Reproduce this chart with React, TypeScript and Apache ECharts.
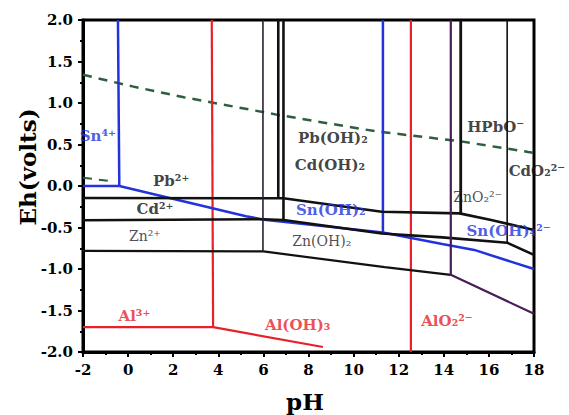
import React, { useEffect, useRef } from "react";
import * as echarts from "echarts";

// ---- data (pH, Eh in volts) ----
const oxygenLine = [[-2, 1.34], [0.19, 1.2], [2.47, 1.07], [6.58, 0.86], [10.96, 0.66], [14.7, 0.54], [17.74, 0.41], [18, 0.4]];
const hydrogenStub = [[-2, 0.1], [-0.8, 0.06]];

const snIVBoundary = [[-0.45, 2.0], [-0.39, 0.0]];
const snIVFloor = [[-2, 0.0], [-0.39, 0.0]];
const snIIFloor = [[-0.39, 0.0], [5.23, -0.364], [6.04, -0.406], [11.3, -0.56], [13.93, -0.7], [15.35, -0.77], [18, -1.0]];
const snOH2Boundary = [[11.3, 2.0], [11.3, -0.56]];

const pbLine = [[-2, -0.144], [6.89, -0.148], [11.25, -0.31], [14.7, -0.33], [16.1, -0.41], [18, -0.53]];
const cdLine = [[-2, -0.412], [6.0, -0.4], [6.89, -0.41], [11.25, -0.572], [13.93, -0.619], [16.81, -0.683], [18, -0.83]];
const znLine = [[-2, -0.782], [6.0, -0.788], [11.38, -0.978], [14.31, -1.07]];
const znAlkaline = [[14.31, -1.07], [18, -1.54]];

const znOH2Boundary = [[5.98, 2.0], [5.98, -0.788]];
const pbOH2Boundary = [[6.66, 2.0], [6.66, -0.148]];
const cdOH2Boundary = [[6.89, 2.0], [6.89, -0.41]];
const hpboBoundary = [[14.75, 2.0], [14.75, -0.33]];
const cdo2Boundary = [[16.81, 2.0], [16.81, -0.683]];
const zno2Boundary = [[14.31, 2.0], [14.31, -1.07]];

const alIIIBoundary = [[3.71, 2.0], [3.77, -1.7]];
const alFloor = [[-2, -1.7], [3.77, -1.7], [8.64, -1.94]];
const alO2Boundary = [[12.54, 2.0], [12.54, -2.0]];

const speciesText = ["Sn⁴⁺", "Pb²⁺", "Cd²⁺", "Zn²⁺", "Al³⁺", "Al(OH)₃", "AlO₂²⁻", "Sn(OH)₂", "Zn(OH)₂", "Pb(OH)₂", "Cd(OH)₂", "HPbO⁻", "CdO₂²⁻", "ZnO₂²⁻", "Sn(OH)₄²⁻"];
const speciesPH = [-1.34, 1.91, 1.19, 0.74, 0.28, 7.52, 14.14, 8.99, 8.59, 9.08, 8.95, 16.3, 18.13, 15.5, 16.87];
const speciesEh = [0.6, 0.056, -0.28, -0.6, -1.566, -1.67, -1.63, -0.292, -0.661, 0.574, 0.256, 0.705, 0.185, -0.136, -0.547];
const speciesGroup = ["sn", "bold", "bold", "plain", "al", "al", "al", "sn", "plain", "bold", "bold", "bold", "bold", "plain", "sn"];

const xMin = -2, xMax = 18, xStep = 2;
const yMin = -2, yMax = 2, yStep = 0.5;

// ---- styles ----
const BLACK = "#111111";
const BLUE = "#2233dd";
const RED = "#e8202a";
const PURPLE = "#4a1c55";
const GREEN = "#2f5e3e";
const FONT = "DejaVu Serif";

const groupStyle: Record<string, any> = {
  sn: { color: BLUE, fontWeight: "bold", fontSize: 15 },
  al: { color: RED, fontWeight: "bold", fontSize: 15 },
  bold: { color: BLACK, fontWeight: "bold", fontSize: 15 },
  plain: { color: "#222", fontWeight: "normal", fontSize: 14 },
};

function lineSeries(data: number[][], color: string, width: number, dashed = false) {
  return {
    type: "line",
    data,
    showSymbol: false,
    symbol: "none",
    silent: true,
    clip: true,
    lineStyle: { color, width, type: dashed ? [9, 7] : "solid", cap: "butt" },
  };
}

export default function App() {
  const ref = useRef<HTMLDivElement>(null);
  useEffect(() => {
    if (!ref.current) return;
    const chart = echarts.init(ref.current, null, { renderer: "svg" });
    const labelData = speciesText.map((t, i) => ({
      name: t,
      value: [speciesPH[i], speciesEh[i]],
      label: { ...groupStyle[speciesGroup[i]] },
    }));
    chart.setOption({
      animation: false,
      backgroundColor: "#fff",
      grid: { left: 83, right: 35, top: 20, bottom: 63, show: true, borderColor: "#000", borderWidth: 3, backgroundColor: "#fff" },
      xAxis: {
        type: "value",
        min: xMin,
        max: xMax,
        interval: xStep,
        axisLine: { show: true, onZero: false, lineStyle: { color: "#000", width: 3 } },
        axisTick: { show: true, inside: false, length: 5, lineStyle: { color: "#000", width: 2 } },
        minorTick: { show: true, splitNumber: 2, length: 3, lineStyle: { color: "#000", width: 2 } },
        splitLine: { show: false },
        axisLabel: { color: "#000", fontFamily: FONT, fontWeight: "bold", fontSize: 15, margin: 10 },
      },
      yAxis: {
        type: "value",
        min: yMin,
        max: yMax,
        interval: yStep,
        axisLine: { show: true, onZero: false, lineStyle: { color: "#000", width: 3 } },
        axisTick: { show: true, inside: false, length: 5, lineStyle: { color: "#000", width: 2 } },
        minorTick: { show: true, splitNumber: 2, length: 3, lineStyle: { color: "#000", width: 2 } },
        splitLine: { show: false },
        axisLabel: { color: "#000", fontFamily: FONT, fontWeight: "bold", fontSize: 15, margin: 10, formatter: (v: number) => v.toFixed(1) },
      },
      graphic: [
        { type: "text", x: 27, y: 167, rotation: Math.PI / 2, style: { text: "Eh(volts)", fill: "#000", font: `bold 23px '${FONT}'`, align: "center", verticalAlign: "middle" } },
        { type: "text", x: 305, y: 401, style: { text: "pH", fill: "#000", font: `bold 23px '${FONT}'`, align: "center", verticalAlign: "middle" } },
      ],
      series: [
        lineSeries(oxygenLine, GREEN, 2.5, true),
        lineSeries(hydrogenStub, GREEN, 2, true),
        lineSeries(alIIIBoundary, RED, 2.2),
        lineSeries(alFloor, RED, 2.2),
        lineSeries(alO2Boundary, RED, 2.2),
        lineSeries(snIVBoundary, BLUE, 2.5),
        lineSeries(snIVFloor, BLUE, 2.5),
        lineSeries(snIIFloor, BLUE, 2.5),
        lineSeries(snOH2Boundary, BLUE, 2.5),
        lineSeries(pbLine, BLACK, 2.6),
        lineSeries(cdLine, BLACK, 2.6),
        lineSeries(znLine, BLACK, 2.2),
        lineSeries(znAlkaline, PURPLE, 2.2),
        lineSeries(znOH2Boundary, "#2b2030", 1.6),
        lineSeries(pbOH2Boundary, BLACK, 2.6),
        lineSeries(cdOH2Boundary, BLACK, 2.6),
        lineSeries(hpboBoundary, BLACK, 2.8),
        lineSeries(cdo2Boundary, BLACK, 1.6),
        lineSeries(zno2Boundary, PURPLE, 2.2),
        {
          type: "scatter",
          data: labelData,
          symbolSize: 1,
          clip: false,
          silent: true,
          itemStyle: { color: "rgba(0,0,0,0)" },
          label: { show: true, position: "inside", formatter: "{b}", fontFamily: FONT, align: "center", verticalAlign: "middle" },
          z: 10,
        },
      ],
    });
    return () => chart.dispose();
  }, []);
  return <div ref={ref} style={{ position: "fixed", left: 0, top: 0, width: 569, height: 415 }} />;
}
